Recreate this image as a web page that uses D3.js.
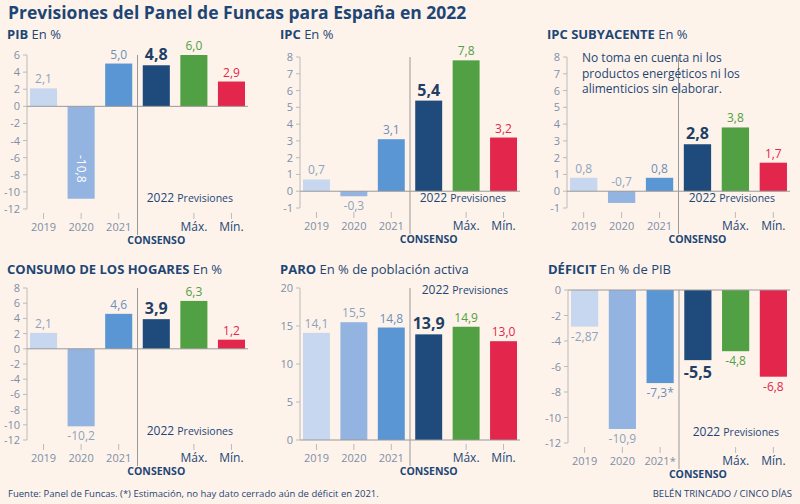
<!DOCTYPE html><html><head><meta charset="utf-8">
<script src="https://cdn.jsdelivr.net/npm/d3@7"></script>
<style>body{margin:0;background:#fdf3ea;font-family:"Open Sans",sans-serif}</style></head><body>
<svg id="c" width="800" height="504"></svg>
<script>
const categories=["2019","2020","2021","Consenso","Máx.","Mín."];
const pibValues=[2.1,-10.8,5.0,4.8,6.0,2.9];
const ipcValues=[0.7,-0.3,3.1,5.4,7.8,3.2];
const subValues=[0.8,-0.7,0.8,2.8,3.8,1.7];
const consumoValues=[2.1,-10.2,4.6,3.9,6.3,1.2];
const paroValues=[14.1,15.5,14.8,13.9,14.9,13.0];
const deficitValues=[-2.87,-10.9,-7.3,-5.5,-4.8,-6.8];
const pibLabels=["2,1","-10,8","5,0","4,8","6,0","2,9"];
const ipcLabels=["0,7","-0,3","3,1","5,4","7,8","3,2"];
const subLabels=["0,8","-0,7","0,8","2,8","3,8","1,7"];
const consumoLabels=["2,1","-10,2","4,6","3,9","6,3","1,2"];
const paroLabels=["14,1","15,5","14,8","13,9","14,9","13,0"];
const deficitLabels=["-2,87","-10,9","-7,3*","-5,5","-4,8","-6,8"];
const xLabels=["2019","2020","2021","","Máx.","Mín."];
const xLabelsDef=["2019","2020","2021*","","Máx.","Mín."];
const colors=["#c6d7ef","#93b4e1","#5a95d4","#1f4a7c","#51a043","#e3264b"];
const textColors=["#8ea3bf","#8ea3bf","#6d8fb8","#1f3f66","#51a043","#e3264b"];
const svg=d3.select("#c");
const navy="#1d4676";
svg.append("text").attr("x",8).attr("y",19).attr("font-size",17.5).attr("font-weight",700).attr("fill",navy).text("Previsiones del Panel de Funcas para España en 2022");
const panels=[
 {t:"PIB",s:"En %",x0:27,x1:248,y0:55,y1:209,dom:[-12,6],step:2,vals:pibValues,labs:pibLabels,xl:xLabels,ty:33,prev:[233,202],rot:true},
 {t:"IPC",s:"En %",x0:300,x1:520,y0:57,y1:208,dom:[-1,8],step:1,vals:ipcValues,labs:ipcLabels,xl:xLabels,ty:33,prev:[506,202]},
 {t:"IPC SUBYACENTE",s:"En %",x0:567,x1:790,y0:57,y1:208,dom:[-1,8],step:1,vals:subValues,labs:subLabels,xl:xLabels,ty:33,prev:[775,202],note:true,negAbove:true},
 {t:"CONSUMO DE LOS HOGARES",s:"En %",x0:27,x1:248,y0:288,y1:440,dom:[-12,8],step:2,vals:consumoValues,labs:consumoLabels,xl:xLabels,ty:268,prev:[233,435]},
 {t:"PARO",s:"En % de población activa",x0:300,x1:520,y0:288,y1:440,dom:[0,20],step:5,vals:paroValues,labs:paroLabels,xl:xLabels,ty:268,prev:[508,294]},
 {t:"DÉFICIT",s:"En % de PIB",x0:568,x1:790,y0:290,y1:443,dom:[-12,0],step:2,vals:deficitValues,labs:deficitLabels,xl:xLabelsDef,ty:268,prev:[779,436]}
];
panels.forEach(p=>{
 const g=svg.append("g");
 const tt=g.append("text").attr("x",p.x0-20).attr("y",p.ty+6).attr("font-size",13).attr("fill",navy);
 tt.append("tspan").attr("font-weight",700).text(p.t+" ");
 tt.append("tspan").text(p.s);
 const y=d3.scaleLinear().domain(p.dom).range([p.y1,p.y0]);
 const x=d3.scaleBand().domain(categories).range([p.x0,p.x1]).paddingInner(0.28).paddingOuter(0.08);
 const ticks=d3.range(p.dom[0],p.dom[1]+0.001,p.step);
 g.append("line").attr("x1",p.x0).attr("x2",p.x0).attr("y1",p.y0).attr("y2",p.y1).attr("stroke","#bbb");
 ticks.forEach(v=>{
  g.append("line").attr("x1",p.x0-4).attr("x2",p.x0).attr("y1",y(v)).attr("y2",y(v)).attr("stroke","#bbb");
  g.append("text").attr("x",p.x0-7).attr("y",y(v)+4).attr("text-anchor","end").attr("font-size",11).attr("fill","#7d8fa8").text(v);
 });
 const sepX=(x("2021")+x.bandwidth()+x("Consenso"))/2;
 g.append("line").attr("x1",sepX).attr("x2",sepX).attr("y1",y(p.dom[1])).attr("y2",p.y1+26).attr("stroke","#999");
 p.vals.forEach((v,i)=>{
  const c=categories[i],bx=x(c),bw=x.bandwidth(),cx=bx+bw/2;
  g.append("rect").attr("x",bx).attr("width",bw).attr("y",y(Math.max(0,v))).attr("height",Math.abs(y(v)-y(0))).attr("fill",colors[i]);
  const big=i===3;
  const fs=big?16:12;
  if(p.rot&&i===1){
   g.append("text").attr("transform",`translate(${cx-4},${y(v)-30}) rotate(90)`).attr("text-anchor","middle").attr("font-size",12).attr("fill","#fff").text(p.labs[i]);
  } else {
   const ly=(v>=0||p.negAbove)?y(Math.max(0,v))-5:y(v)+(big?18:14);
   g.append("text").attr("x",cx).attr("y",ly).attr("text-anchor","middle").attr("font-size",fs).attr("font-weight",big?700:400).attr("fill",textColors[i]).text(p.labs[i]);
  }
  if(i!==3) g.append("line").attr("x1",cx).attr("x2",cx).attr("y1",p.y1+4).attr("y2",p.y1+10).attr("stroke","#bbb");
  g.append("text").attr("x",cx).attr("y",p.y1+22).attr("text-anchor","middle").attr("font-size",i>=4?12:11).attr("fill",i>=4?navy:"#7d8fa8").text(p.xl[i]);
 });
 g.append("line").attr("x1",p.x0).attr("x2",p.x1).attr("y1",y(0)).attr("y2",y(0)).attr("stroke","#999");
 g.append("text").attr("x",x("Consenso")+x.bandwidth()/2).attr("y",p.y1+35).attr("text-anchor","middle").attr("font-size",10.5).attr("font-weight",700).attr("fill",navy).text("CONSENSO");
 const pv=g.append("text").attr("x",p.prev[0]).attr("y",p.prev[1]).attr("text-anchor","end").attr("fill",navy);
 pv.append("tspan").attr("font-size",12).text("2022 ");
 pv.append("tspan").attr("font-size",10.5).text("Previsiones");
 if(p.note){
  ["No toma en cuenta ni los","productos energéticos ni los","alimenticios sin elaborar."].forEach((s,k)=>
   g.append("text").attr("x",582).attr("y",62+k*15.5).attr("font-size",12).attr("fill",navy).text(s));
 }
});
svg.append("text").attr("x",8).attr("y",497).attr("font-size",9.5).attr("fill",navy).text("Fuente: Panel de Funcas. (*) Estimación, no hay dato cerrado aún de déficit en 2021.");
svg.append("text").attr("x",792).attr("y",497).attr("text-anchor","end").attr("font-size",9.5).attr("fill",navy).text("BELÉN TRINCADO / CINCO DÍAS");
</script></body></html>
